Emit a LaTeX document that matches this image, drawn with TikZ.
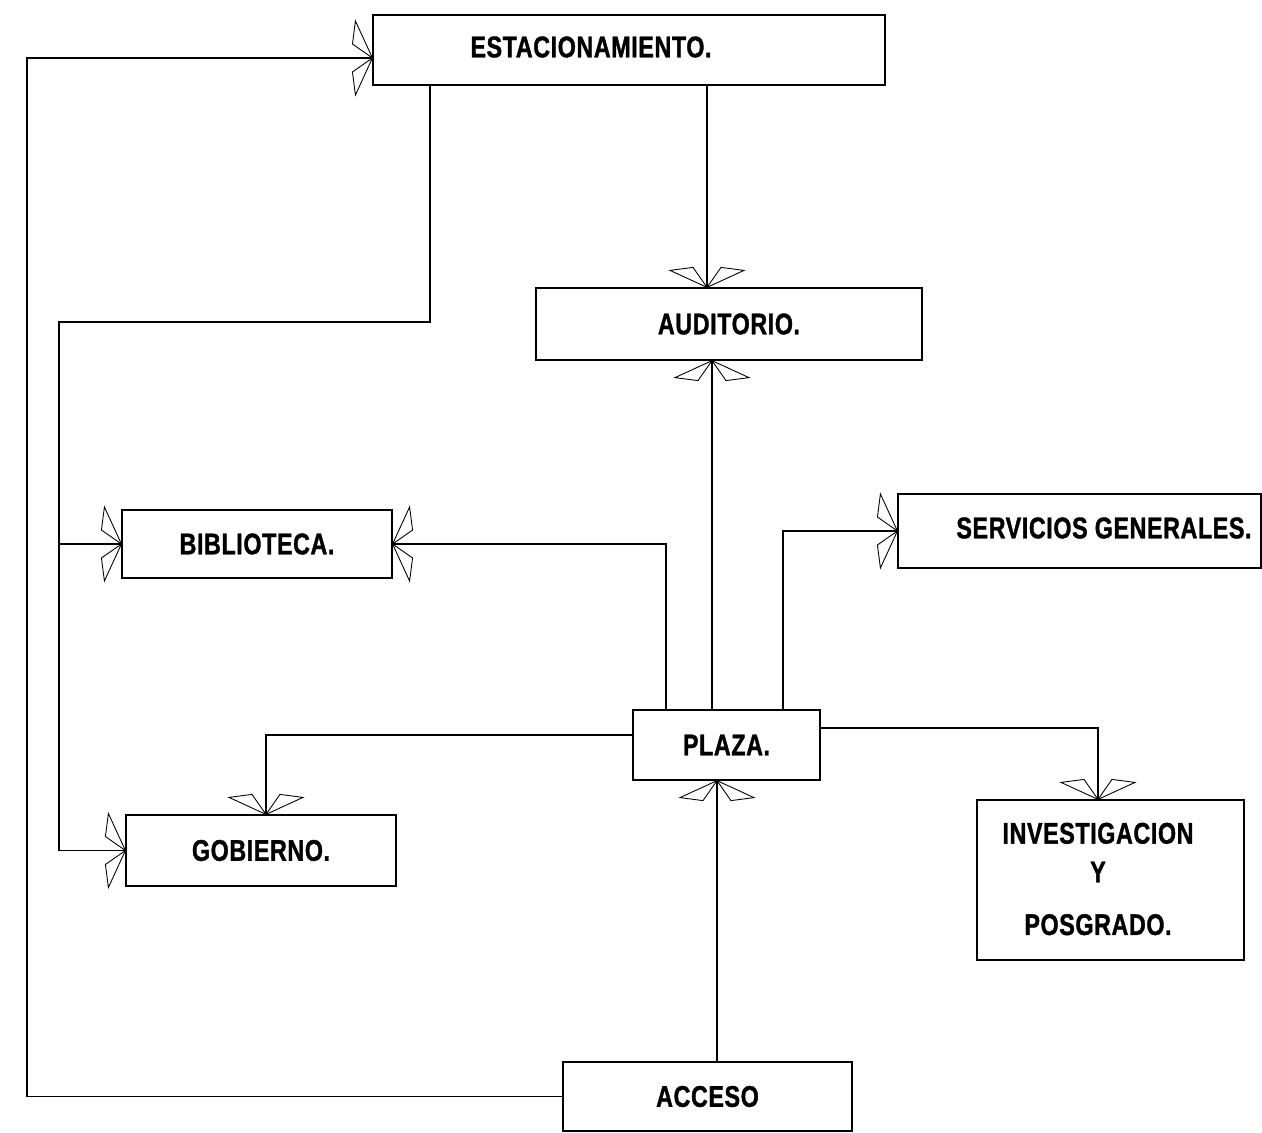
\documentclass[tikz,border=0pt]{standalone}
\usepackage{fontspec}
\usepackage{tikz}
\usetikzlibrary{calc,positioning}
\newfontfamily\boxfont{Liberation Sans}[FakeStretch=0.78,LetterSpace=2,FakeBold=1.2]

\begin{document}
\begin{tikzpicture}[
  x=0.02cm,y=-0.02cm,
  box/.style={draw,line width=0.7pt,inner sep=0pt},
  txt/.style={font=\fontsize{17}{19}\selectfont\boxfont\bfseries,align=center},
  link/.style={line width=0.6pt},
  barb/.pic={\draw[line width=0.5pt] (0,0)--(-17,37)--(-20,14)--cycle
    (0,0)--(-17,-37)--(-20,-14)--cycle;}
]
\useasboundingbox (0,0) rectangle (1262,1133);

% Boxes.
\node[box,minimum width=10.24cm,minimum height=1.40cm] (est) at (629,50) {};
\node[txt] (estT) at (591,47) {ESTACIONAMIENTO.};
\node[box,txt,minimum width=7.72cm,minimum height=1.44cm] (aud) at (729,324) {AUDITORIO.};
\node[box,txt,minimum width=5.40cm,minimum height=1.36cm] (bib) at (257,544) {BIBLIOTECA.};
\node[box,minimum width=7.26cm,minimum height=1.48cm] (serv) at (1079.5,531) {};
\node[txt] (servT) at (1104,528) {SERVICIOS GENERALES.};
\node[box,txt,minimum width=3.74cm,minimum height=1.40cm] (plaza) at (726.5,745) {PLAZA.};
\node[box,txt,minimum width=5.40cm,minimum height=1.42cm] (gob) at (261,850.5) {GOBIERNO.};
\node[box,minimum width=5.34cm,minimum height=3.20cm] (inv) at (1110.5,880) {};
\node[txt] (invT) at (1098,879) {INVESTIGACION\\[3pt] Y\\[11pt] POSGRADO.};
\node[box,txt,minimum width=5.78cm,minimum height=1.38cm] (acc) at (707.5,1096.5) {ACCESO};

% Rails and columns.
\coordinate (colA) at (707,0);
\coordinate (colB) at (712,0);
\coordinate (colC) at (717,0);
\coordinate (colD) at (430,322);
\coordinate (colE) at (666,0);
\coordinate (colF) at (783,0);
\coordinate (colG) at (266,0);
\coordinate (colI) at (1098,0);
\coordinate (railL) at (27,0);
\coordinate (railM) at (59,0);
\coordinate (rowE) at (0,58);
\coordinate (rowG) at (0,735);
\coordinate (rowI) at (0,728);

% Connectors.
\draw[link] (est.south -| colA) -- (aud.north -| colA);
\pic[rotate=-90] at (aud.north -| colA) {barb};
\draw[link] (plaza.north -| colB) -- (aud.south -| colB);
\pic[rotate=90] at (aud.south -| colB) {barb};
\draw[link] (acc.north -| colC) -- (plaza.south -| colC);
\pic[rotate=90] at (plaza.south -| colC) {barb};

\draw[link] (acc.west) -- (acc.west -| railL) -- (railL |- rowE) -- (est.west |- rowE);
\pic at (est.west |- rowE) {barb};

\draw[link] (est.south -| colD) -- (colD) -- (colD -| railM) -- (railM |- gob.west) -- (gob.west);
\draw[link] (railM |- bib.west) -- (bib.west);
\pic at (bib.west) {barb};
\pic at (gob.west) {barb};

\draw[link] (plaza.north -| colE) |- (bib.east);
\pic[rotate=180] at (bib.east) {barb};
\draw[link] (plaza.north -| colF) |- (serv.west);
\pic at (serv.west) {barb};

\draw[link] (plaza.west |- rowG) -- (colG |- rowG) -- (gob.north -| colG);
\pic[rotate=-90] at (gob.north -| colG) {barb};
\draw[link] (plaza.east |- rowI) -- (colI |- rowI) -- (inv.north -| colI);
\pic[rotate=-90] at (inv.north -| colI) {barb};
\end{tikzpicture}
\end{document}
